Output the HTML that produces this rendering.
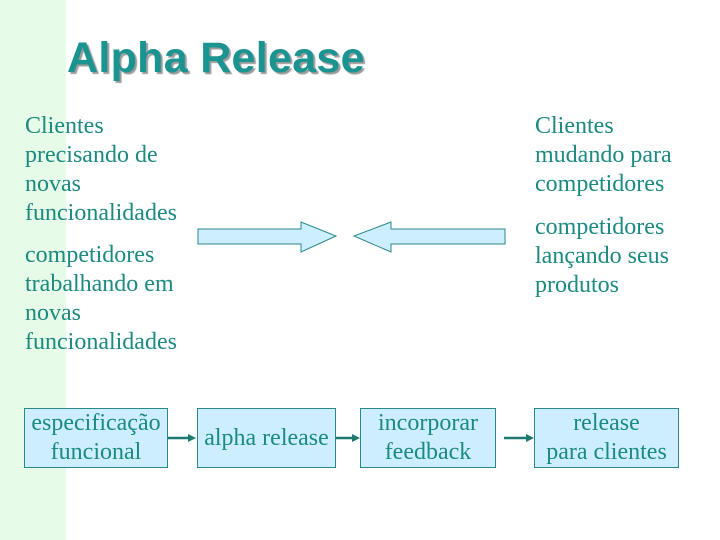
<!DOCTYPE html>
<html><head><meta charset="utf-8"><style>
body{margin:0;width:720px;height:540px;background:#fff;position:relative;overflow:hidden;font-family:"Liberation Serif",serif;color:#1b8a80}
.strip{position:absolute;left:0;top:0;width:66px;height:540px;background:#e6fbe8}
.title{position:absolute;left:67px;top:34px;font:bold 43px "Liberation Sans",sans-serif;color:#1a9490;text-shadow:2px 2px 1px #9a9a9a;letter-spacing:0.3px}
.t{position:absolute;font-size:24px;line-height:29px;white-space:nowrap}
.box{position:absolute;top:408px;height:60px;background:#cceeff;border:1px solid #2a8a88;box-sizing:border-box;display:flex;align-items:center;justify-content:center;text-align:center;font-size:24px;line-height:29px;white-space:nowrap}
</style></head><body>
<div class="strip"></div>
<div class="title">Alpha Release</div>
<div class="t" style="left:25px;top:112px">Clientes<br>precisando de<br>novas<br>funcionalidades</div>
<div class="t" style="left:25px;top:241px">competidores<br>trabalhando em<br>novas<br>funcionalidades</div>
<div class="t" style="left:535px;top:112px">Clientes<br>mudando para<br>competidores</div>
<div class="t" style="left:535px;top:213px">competidores<br>lançando seus<br>produtos</div>
<svg style="position:absolute;left:0;top:0" width="720" height="540">
<polygon points="198,229 301,229 301,222 336,236 301,252 301,244 198,244" fill="#cceeff" stroke="#2a8a88" stroke-width="1"/>
<polygon points="505,229 391,229 391,222 354,236 391,252 391,244 505,244" fill="#cceeff" stroke="#2a8a88" stroke-width="1"/>
<g stroke="#1b7a70" stroke-width="2.5" fill="#1b7a70">
<line x1="168" y1="438" x2="190" y2="438"/><polygon points="196,438 188,434 188,442" stroke="none"/>
<line x1="336" y1="438" x2="354" y2="438"/><polygon points="360,438 352,434 352,442" stroke="none"/>
<line x1="504" y1="438" x2="528" y2="438"/><polygon points="534,438 526,434 526,442" stroke="none"/>
</g>
</svg>
<div class="box" style="left:24px;width:144px">especificação<br>funcional</div>
<div class="box" style="left:197px;width:139px">alpha release</div>
<div class="box" style="left:360px;width:136px">incorporar<br>feedback</div>
<div class="box" style="left:534px;width:145px">release<br>para clientes</div>
</body></html>
